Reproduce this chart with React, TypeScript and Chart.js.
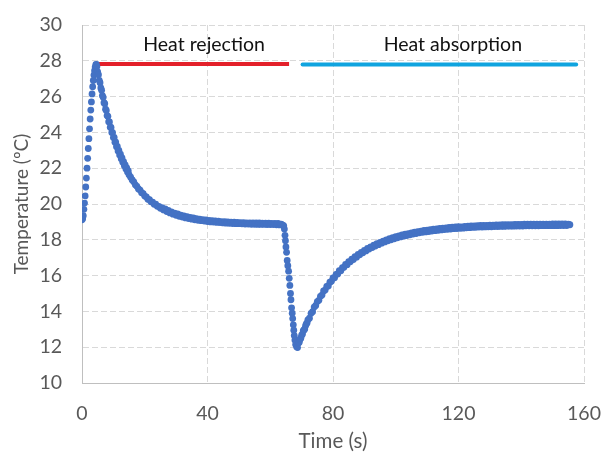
import React, { useEffect, useRef } from "react";
import { Chart, registerables } from "chart.js";

Chart.register(...registerables);

const warmUp: [number, number][] = [
  [0.0, 19.12], [0.2, 19.18], [0.4, 19.35], [0.6, 19.7], [0.8, 20.05], [1.0, 20.45], [1.2, 20.95], [1.4, 21.45],
  [1.6, 22.0], [1.8, 22.55], [2.0, 23.1], [2.2, 23.65], [2.4, 24.2], [2.6, 24.75], [2.8, 25.25], [3.0, 25.7],
  [3.2, 26.15], [3.4, 26.55], [3.6, 26.9], [3.8, 27.2], [4.0, 27.45], [4.2, 27.65], [4.4, 27.78], [4.6, 27.8],
];

const rejection: [number, number][] = [
  [4.75, 27.68], [5.0, 27.38], [5.25, 27.22], [5.5, 26.91], [5.75, 26.78], [6.0, 26.48], [6.25, 26.36], [6.5, 26.06],
  [6.75, 25.96], [7.0, 25.66], [7.25, 25.6], [7.5, 25.3], [7.75, 25.23], [8.0, 24.94], [8.25, 24.9], [8.5, 24.6],
  [8.75, 24.58], [9.0, 24.29], [9.25, 24.28], [9.5, 24.0], [9.75, 23.99], [10.0, 23.71], [10.25, 23.72], [10.5, 23.45],
  [10.75, 23.46], [11.0, 23.2], [11.25, 23.22], [11.5, 22.96], [11.75, 23.0], [12.0, 22.74], [12.25, 22.78], [12.5, 22.53],
  [12.75, 22.58], [13.0, 22.33], [13.25, 22.36], [13.5, 22.14], [13.75, 22.19], [14.0, 21.96], [14.25, 22.02], [14.5, 21.79],
  [14.75, 21.85], [15.0, 21.63], [15.5, 21.5], [16.0, 21.34], [16.5, 21.24], [17.0, 21.07], [17.5, 20.99], [18.0, 20.84],
  [18.5, 20.78], [19.0, 20.63], [19.5, 20.58], [20.0, 20.44], [20.5, 20.4], [21.0, 20.27], [21.5, 20.24], [22.0, 20.12],
  [22.5, 20.11], [23.0, 19.98], [23.5, 19.99], [24.0, 19.87], [24.5, 19.87], [25.0, 19.76], [25.5, 19.8], [26.0, 19.67],
  [26.5, 19.72], [27.0, 19.58], [27.5, 19.64], [28.0, 19.5], [28.5, 19.56], [29.0, 19.43], [29.5, 19.49], [30.0, 19.37],
  [30.5, 19.44], [31.0, 19.31], [31.5, 19.38], [32.0, 19.27], [32.5, 19.33], [33.0, 19.22], [33.5, 19.29], [34.0, 19.19],
  [34.5, 19.25], [35.0, 19.15], [35.5, 19.22], [36.0, 19.12], [36.5, 19.18], [37.0, 19.09], [37.5, 19.15], [38.0, 19.07],
  [38.5, 19.13], [39.0, 19.05], [39.5, 19.11], [40.0, 19.02], [40.5, 19.09], [41.0, 19.0], [41.5, 19.07], [42.0, 18.99],
  [42.5, 19.05], [43.0, 18.97], [43.5, 19.04], [44.0, 18.96], [44.5, 19.02], [45.0, 18.94], [45.5, 19.01], [46.0, 18.93],
  [46.5, 19.0], [47.0, 18.92], [47.5, 18.99], [48.0, 18.91], [48.5, 18.98], [49.0, 18.9], [49.5, 18.97], [50.0, 18.9],
  [50.5, 18.96], [51.0, 18.89], [51.5, 18.96], [52.0, 18.88], [52.5, 18.95], [53.0, 18.88], [53.5, 18.95], [54.0, 18.87],
  [54.5, 18.94], [55.0, 18.87], [55.5, 18.94], [56.0, 18.86], [56.5, 18.94], [57.0, 18.86], [57.5, 18.93], [58.0, 18.86],
  [58.5, 18.93], [59.0, 18.85], [59.5, 18.93], [60.0, 18.85], [60.5, 18.92], [61.0, 18.85], [61.5, 18.92], [62.0, 18.84],
  [62.5, 18.91], [63.0, 18.83], [63.5, 18.88], [64.0, 18.82],
];

const switchover: [number, number][] = [
  [64.3, 18.78], [64.5, 18.6], [64.7, 18.25], [64.85, 17.95], [65.0, 17.6], [65.2, 17.3], [65.4, 16.85], [65.6, 16.55],
  [65.85, 16.25], [66.05, 15.85], [66.25, 15.45], [66.45, 15.0], [66.6, 14.65], [66.8, 14.2], [67.0, 13.9], [67.15, 13.6],
  [67.35, 13.25], [67.5, 12.95], [67.65, 12.65], [67.85, 12.4], [68.1, 12.15], [68.4, 12.02], [68.7, 11.98],
];

const absorption: [number, number][] = [
  [69.0, 12.24], [69.25, 12.27], [69.5, 12.45], [69.75, 12.5], [70.0, 12.67], [70.25, 12.72], [70.5, 12.91], [70.75, 12.96],
  [71.0, 13.02], [71.25, 13.2], [71.5, 13.3], [71.75, 13.36], [72.0, 13.53], [72.5, 13.62], [73.0, 13.89], [73.5, 13.98],
  [74.0, 14.24], [74.5, 14.33], [75.0, 14.55], [75.5, 14.62], [76.0, 14.84], [76.5, 14.91], [77.0, 15.14], [77.5, 15.19],
  [78.0, 15.39], [78.5, 15.42], [79.0, 15.63], [79.5, 15.68], [80.0, 15.87], [80.5, 15.88], [81.0, 16.07], [81.5, 16.09],
  [82.0, 16.27], [82.5, 16.27], [83.0, 16.44], [83.5, 16.46], [84.0, 16.62], [84.5, 16.61], [85.0, 16.78], [85.5, 16.77],
  [86.0, 16.92], [86.5, 16.9], [87.0, 17.06], [87.5, 17.03], [88.0, 17.19], [88.5, 17.16], [89.0, 17.3], [89.5, 17.27],
  [90.0, 17.41], [90.5, 17.38], [91.0, 17.52], [91.5, 17.48], [92.0, 17.61], [92.5, 17.57], [93.0, 17.7], [93.5, 17.65],
  [94.0, 17.78], [94.5, 17.73], [95.0, 17.86], [95.5, 17.81], [96.0, 17.93], [96.5, 17.88], [97.0, 18.0], [97.5, 17.94],
  [98.0, 18.06], [98.5, 18.0], [99.0, 18.12], [99.5, 18.06], [100.0, 18.17], [100.5, 18.11], [101.0, 18.22], [101.5, 18.16],
  [102.0, 18.27], [102.5, 18.2], [103.0, 18.31], [103.5, 18.24], [104.0, 18.35], [104.5, 18.28], [105.0, 18.39], [105.5, 18.32],
  [106.0, 18.43], [106.5, 18.35], [107.0, 18.46], [107.5, 18.39], [108.0, 18.49], [108.5, 18.42], [109.0, 18.52], [109.5, 18.44],
  [110.0, 18.54], [110.5, 18.46], [111.0, 18.57], [111.5, 18.49], [112.0, 18.59], [112.5, 18.51], [113.0, 18.61], [113.5, 18.53],
  [114.0, 18.63], [114.5, 18.55], [115.0, 18.65], [115.5, 18.57], [116.0, 18.67], [116.5, 18.59], [117.0, 18.69], [117.5, 18.6],
  [118.0, 18.7], [118.5, 18.62], [119.0, 18.72], [119.5, 18.63], [120.0, 18.73], [120.5, 18.64], [121.0, 18.72], [121.5, 18.65],
  [122.0, 18.75], [122.5, 18.67], [123.0, 18.76], [123.5, 18.68], [124.0, 18.77], [124.5, 18.69], [125.0, 18.78], [125.5, 18.7],
  [126.0, 18.79], [126.5, 18.71], [127.0, 18.8], [127.5, 18.71], [128.0, 18.81], [128.5, 18.72], [129.0, 18.81], [129.5, 18.73],
  [130.0, 18.82], [130.5, 18.73], [131.0, 18.82], [131.5, 18.74], [132.0, 18.83], [132.5, 18.74], [133.0, 18.83], [133.5, 18.75],
  [134.0, 18.84], [134.5, 18.75], [135.0, 18.84], [135.5, 18.76], [136.0, 18.85], [136.5, 18.76], [137.0, 18.85], [137.5, 18.76],
  [138.0, 18.86], [138.5, 18.77], [139.0, 18.86], [139.5, 18.77], [140.0, 18.86], [140.5, 18.77], [141.0, 18.87], [141.5, 18.78],
  [142.0, 18.87], [142.5, 18.78], [143.0, 18.87], [143.5, 18.78], [144.0, 18.87], [144.5, 18.78], [145.0, 18.88], [145.5, 18.78],
  [146.0, 18.88], [146.5, 18.79], [147.0, 18.88], [147.5, 18.79], [148.0, 18.88], [148.5, 18.79], [149.0, 18.88], [149.5, 18.79],
  [150.0, 18.89], [150.5, 18.79], [151.0, 18.89], [151.5, 18.79], [152.0, 18.89], [152.5, 18.8], [153.0, 18.89], [153.5, 18.8],
  [154.0, 18.89], [154.5, 18.8], [155.0, 18.88], [155.5, 18.84],
];

// Phase bars and their labels
const phaseLabels = ["Heat rejection", "Heat absorption"];
const phaseStart = [4.8, 70.3];
const phaseEnd = [66, 157.5];
const phaseBarTemp = [27.82, 27.8];
const phaseLabelTime = [38.9, 118.2];
const phaseLabelTemp = 28.9;
const phaseColors = ["#E3202A", "#10A4DF"];

// Axes
const xMin = 0;
const xMax = 160;
const xStep = 40;
const yMin = 10;
const yMax = 30;
const yStep = 2;
const xTitle = "Time (s)";
const yTitle = "Temperature (ºC)";

const FONT = "Lato, 'Open Sans', sans-serif";

const phaseLabelPlugin = {
  id: "phaseLabelPlugin",
  afterDatasetsDraw(chart: any) {
    const { ctx, scales } = chart;
    const x = scales.x;
    const y = scales.y;
    ctx.save();
    ctx.font = `19.5px ${FONT}`;
    ctx.fillStyle = "#111111";
    ctx.textAlign = "center";
    ctx.textBaseline = "middle";
    phaseLabels.forEach((label, i) => {
      ctx.fillText(label, x.getPixelForValue(phaseLabelTime[i]), y.getPixelForValue(phaseLabelTemp));
    });
    ctx.restore();
  },
};

export default function App() {
  const canvasRef = useRef<HTMLCanvasElement | null>(null);

  useEffect(() => {
    const canvas = canvasRef.current;
    if (!canvas) return;

    const points = [...warmUp, ...rejection, ...switchover, ...absorption].map(([t, v]) => ({ x: t, y: v }));

    const phaseDatasets = phaseLabels.map((label, i) => ({
      type: "line" as const,
      label,
      data: [
        { x: phaseStart[i], y: phaseBarTemp[i] },
        { x: phaseEnd[i], y: phaseBarTemp[i] },
      ],
      borderColor: phaseColors[i],
      backgroundColor: phaseColors[i],
      borderWidth: 4,
      borderCapStyle: i === 0 ? "butt" : "round",
      pointRadius: 0,
      showLine: true,
      fill: false,
    }));

    const zeroPadding = (scale: any) => {
      scale.paddingTop = 0;
      scale.paddingBottom = 0;
      scale.paddingLeft = 0;
      scale.paddingRight = 0;
    };

    const chart = new Chart(canvas, {
      type: "scatter",
      data: {
        datasets: [
          {
            label: "Temperature",
            data: points,
            pointRadius: 3.4,
            pointHoverRadius: 3.4,
            pointBackgroundColor: "#4472C4",
            pointBorderWidth: 0,
            borderColor: "#4472C4",
            showLine: false,
          } as any,
          ...(phaseDatasets as any[]),
        ],
      },
      options: {
        responsive: false,
        animation: false,
        devicePixelRatio: 1,
        layout: { padding: { top: 25, right: 18, left: 0, bottom: 0 } },
        plugins: {
          legend: { display: false },
          tooltip: { enabled: false },
        },
        scales: {
          x: {
            type: "linear",
            min: xMin,
            max: xMax,
            ticks: {
              stepSize: xStep,
              color: "#595959",
              font: { family: FONT, size: 19.5 },
              padding: 19,
              maxRotation: 0,
            },
            grid: { color: "#d9d9d9", drawTicks: false, lineWidth: 1 },
            border: { display: true, color: "#bfbfbf", width: 1, dash: [6, 3] },
            title: {
              display: true,
              text: xTitle,
              color: "#595959",
              font: { family: FONT, size: 20.5, lineHeight: 1.0 },
              padding: { top: 0, bottom: 0 },
            },
            afterFit(scale: any) {
              scale.height = 69;
              zeroPadding(scale);
            },
          },
          y: {
            type: "linear",
            min: yMin,
            max: yMax,
            ticks: {
              stepSize: yStep,
              color: "#595959",
              font: { family: FONT, size: 19.5 },
              padding: 20,
            },
            grid: { color: "#d9d9d9", drawTicks: false, lineWidth: 1 },
            border: { display: true, color: "#bfbfbf", width: 1, dash: [6, 3] },
            title: {
              display: true,
              text: yTitle,
              color: "#595959",
              font: { family: FONT, size: 19 },
              padding: { top: 10, bottom: 0 },
            },
            afterFit(scale: any) {
              scale.width = 82;
              zeroPadding(scale);
            },
          },
        },
      },
      plugins: [phaseLabelPlugin],
    });

    return () => {
      chart.destroy();
    };
  }, []);

  return (
    <div style={{ position: "absolute", left: 0, top: 0, width: 602, height: 452, background: "#ffffff" }}>
      <canvas ref={canvasRef} width={602} height={452} style={{ display: "block" }} />
    </div>
  );
}
